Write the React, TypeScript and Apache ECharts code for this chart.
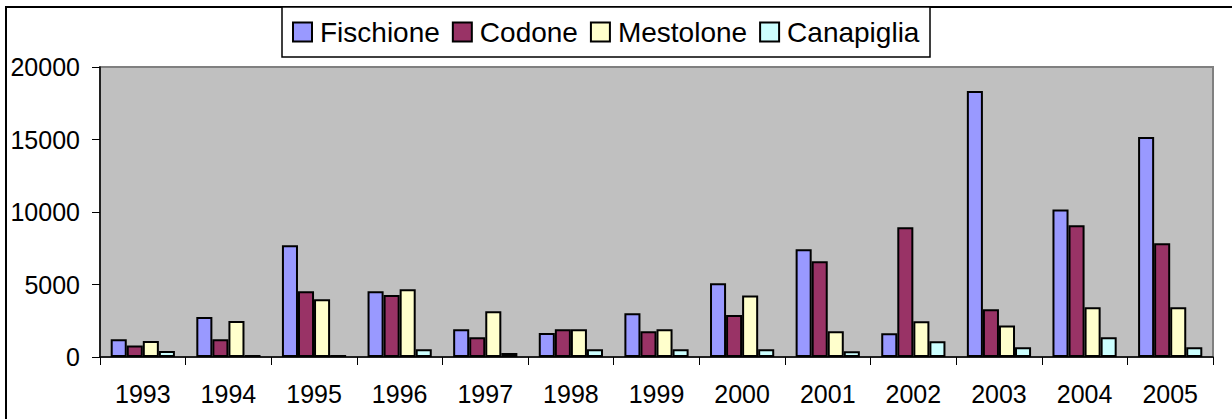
import React, { useEffect, useRef } from "react";
import * as echarts from "echarts";

const years = ["1993", "1994", "1995", "1996", "1997", "1998", "1999", "2000", "2001", "2002", "2003", "2004", "2005"];
const fischione = [1220, 2760, 7700, 4530, 1910, 1660, 3010, 5080, 7430, 1630, 18340, 10180, 15170];
const codone = [800, 1220, 4530, 4280, 1360, 1910, 1770, 2900, 6600, 8940, 3290, 9080, 7840];
const mestolone = [1100, 2480, 3980, 4670, 3150, 1910, 1910, 4250, 1770, 2460, 2180, 3430, 3430];
const canapiglia = [410, 140, 140, 530, 280, 530, 530, 530, 390, 1080, 670, 1360, 670];

const seriesNames = ["Fischione", "Codone", "Mestolone", "Canapiglia"];
const seriesData = [fischione, codone, mestolone, canapiglia];
const seriesColors = ["#9999FF", "#993366", "#FFFFCC", "#CCFFFF"];

const FONT = "'Liberation Sans', Arial, sans-serif";

export default function App() {
  const ref = useRef<HTMLDivElement>(null);
  useEffect(() => {
    if (!ref.current) return;
    const chart = echarts.init(ref.current, undefined, { renderer: "svg" });
    chart.setOption({
      animation: false,
      backgroundColor: "#FFFFFF",
      textStyle: { fontFamily: FONT, color: "#000" },
      graphic: [
        {
          type: "rect",
          z: 0,
          shape: { x: 6, y: 7, width: 1400, height: 600 },
          style: { fill: "none", stroke: "#000", lineWidth: 2 },
        },
        {
          type: "rect",
          z: 1,
          shape: { x: 282, y: 7, width: 648, height: 50 },
          style: { fill: "#FFFFFF", stroke: "#000", lineWidth: 1.5 },
        },
      ],
      legend: {
        data: seriesNames,
        left: 292,
        top: 18,
        z: 5,
        itemWidth: 19,
        itemHeight: 19,
        itemGap: 12,
        padding: 0,
        icon: "rect",
        textStyle: { fontFamily: FONT, fontSize: 28, color: "#000", lineHeight: 28, padding: [0, 0, 0, 3] },
      },
      grid: {
        left: 100,
        right: 19,
        top: 67,
        bottom: 62,
        show: true,
        backgroundColor: "#C0C0C0",
        borderColor: "#808080",
        borderWidth: 2,
      },
      xAxis: {
        type: "category",
        data: years,
        axisLine: { lineStyle: { color: "#000", width: 1.5 } },
        axisTick: { show: true, length: 8, inside: false, lineStyle: { color: "#000" } },
        axisLabel: { fontFamily: FONT, fontSize: 25, color: "#000", margin: 24 },
        splitLine: { show: false },
      },
      yAxis: {
        type: "value",
        min: 0,
        max: 20000,
        interval: 5000,
        axisLine: { show: true, lineStyle: { color: "#000", width: 1.5 } },
        axisTick: { show: true, length: 8, lineStyle: { color: "#000" } },
        axisLabel: {
          fontFamily: FONT,
          fontSize: 25,
          color: "#000",
          margin: 20,
          formatter: (v: number) => String(v),
        },
        splitLine: { show: false },
      },
      series: seriesNames.map((name, i) => ({
        name,
        type: "bar",
        data: seriesData[i],
        barGap: "0%",
        barCategoryGap: "25%",
        itemStyle: { color: seriesColors[i], borderColor: "#000", borderWidth: 2 },
      })),
    });
    return () => chart.dispose();
  }, []);
  return (
    <div
      ref={ref}
      style={{ position: "fixed", left: 0, top: 0, width: 1232, height: 419, background: "#fff" }}
    />
  );
}
